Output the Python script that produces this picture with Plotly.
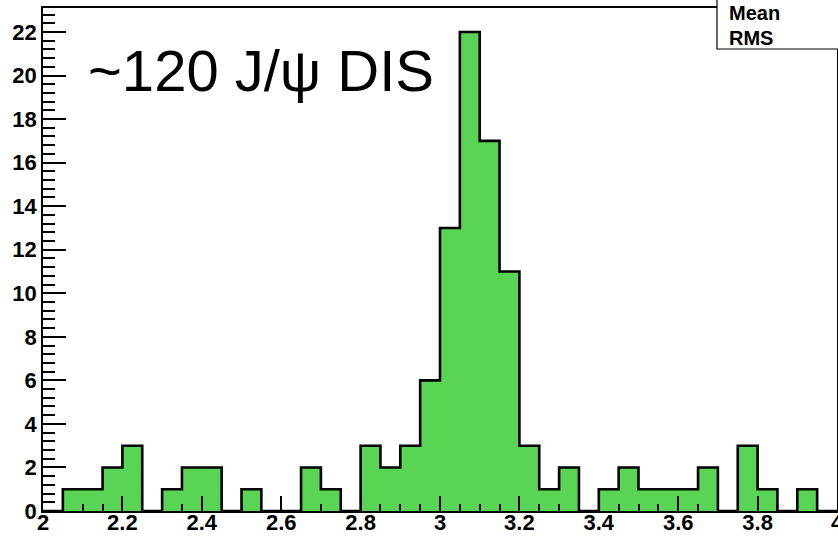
import plotly.graph_objects as go

# Histogram: invariant mass, 40 bins of 0.05 from 2.0 to 4.0
bin_low = 2.0
bin_width = 0.05
counts = [0, 1, 1, 2, 3, 0, 1, 2, 2, 0,
          1, 0, 0, 2, 1, 0, 3, 2, 3, 6,
          13, 22, 17, 11, 3, 1, 2, 0, 1, 2,
          1, 1, 1, 2, 0, 3, 1, 0, 1, 0]
title_text = "~120 J/\u03c8 DIS"
stats_labels = ["Mean", "RMS"]

edges = [round(bin_low + i * bin_width, 4) for i in range(len(counts) + 1)]
step_y = counts + [counts[-1]]

FILL = "rgb(89,212,84)"
FONT = "Liberation Sans, Arial, sans-serif"

fig = go.Figure()
fig.add_trace(go.Scatter(
    x=edges, y=step_y,
    mode="lines",
    line=dict(shape="hv", color="black", width=2.6),
    fill="tozeroy", fillcolor=FILL,
    hoverinfo="skip", showlegend=False,
))

W, H = 838, 536
ml, mr, mt, mb = 43, 1, 8, 25
ymax = max(counts) * 1.05

fig.update_layout(
    width=W, height=H,
    margin=dict(l=ml, r=mr, t=mt, b=mb, autoexpand=False),
    paper_bgcolor="white", plot_bgcolor="white",
    showlegend=False,
)

fig.update_xaxes(
    range=[edges[0], edges[-1]],
    automargin=False, ticklabeloverflow="allow", ticklabelstandoff=-9,
    showgrid=False, zeroline=False,
    showline=True, linecolor="black", linewidth=1.5, mirror=True,
    ticks="inside", ticklen=15, tickwidth=1.5, tickcolor="black",
    tick0=2.0, dtick=0.2,
    minor=dict(ticks="inside", ticklen=7, tickwidth=1.5, tickcolor="black", dtick=0.05, showgrid=False),
    tickfont=dict(family=FONT, size=22, color="black", weight="bold"),
    tickformat="~g",
)
fig.update_yaxes(
    range=[0, ymax],
    automargin=False, ticklabeloverflow="allow",
    showgrid=False, zeroline=False,
    showline=True, linecolor="black", linewidth=1.5, mirror=True,
    ticks="inside", ticklen=23, tickwidth=1.5, tickcolor="black",
    tick0=0, dtick=2,
    minor=dict(ticks="inside", ticklen=12, tickwidth=1.5, tickcolor="black", dtick=0.4, showgrid=False),
    tickfont=dict(family=FONT, size=22, color="black", weight="bold"),
)

# statistics box in the top-right corner
pw = W - ml - mr
ph = H - mt - mb
def px_x(p):
    return (p - ml) / pw
def px_y(p):
    return 1 - (p - mt) / ph

fig.add_shape(type="rect", xref="paper", yref="paper",
              x0=px_x(717), x1=px_x(850), y0=px_y(49), y1=px_y(-5),
              fillcolor="white", line=dict(color="black", width=1.2), layer="above")

for label, ypx in zip(stats_labels, [13, 38]):
    fig.add_annotation(xref="paper", yref="paper", x=px_x(727), y=px_y(ypx),
                       xanchor="left", yanchor="middle", showarrow=False,
                       text=label, font=dict(family=FONT, size=20, color="black", weight="bold"))

fig.add_annotation(xref="paper", yref="paper", x=px_x(86), y=px_y(70),
                   xanchor="left", yanchor="middle", showarrow=False,
                   text=title_text, font=dict(family=FONT, size=58, color="black"))

fig.write_html("out.html")
